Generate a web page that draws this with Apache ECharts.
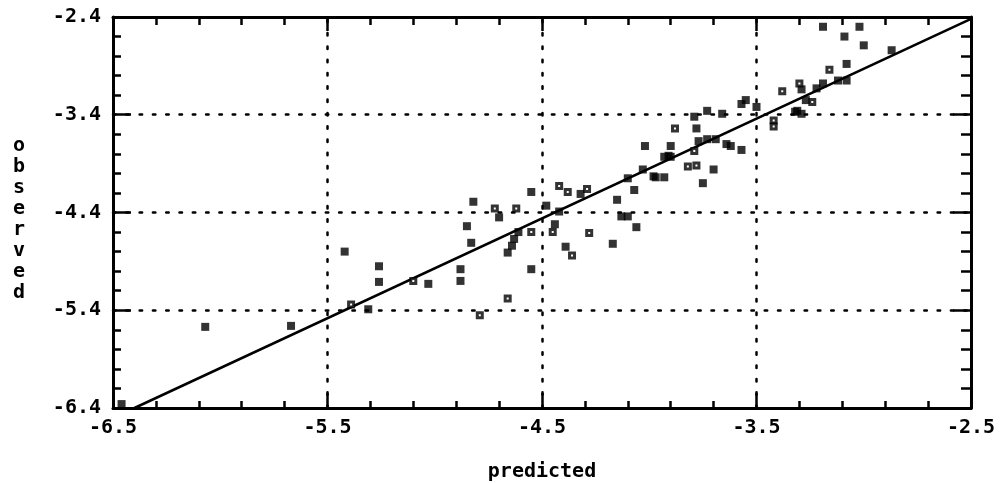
<!DOCTYPE html>
<html>
<head>
<meta charset="utf-8">
<script src="https://cdn.jsdelivr.net/npm/echarts@6/dist/echarts.min.js"></script>
<style>
html,body{margin:0;padding:0;background:#fff;}
#chart{width:1002px;height:483px;}
</style>
</head>
<body>
<div id="chart"></div>
<script>
// ---- data ----
const filledPredicted = [-6.46,-6.07,-5.67,-5.42,-5.31,-5.26,-5.26,-5.03,-4.88,-4.88,-4.85,-4.83,-4.82,-4.70,-4.66,-4.64,-4.63,-4.61,-4.55,-4.55,-4.48,-4.44,-4.42,-4.39,-4.32,-4.17,-4.15,-4.13,-4.10,-4.07,-4.10,-4.06,-4.03,-3.98,-3.97,-3.93,-4.02,-3.91,-3.93,-3.90,-3.90,-3.78,-3.79,-3.77,-3.75,-3.73,-3.73,-3.70,-3.69,-3.66,-3.64,-3.62,-3.57,-3.57,-3.55,-3.50,-3.32,-3.31,-3.29,-3.29,-3.27,-3.22,-3.19,-3.19,-3.12,-3.08,-3.08,-3.09,-3.02,-3.00,-2.87];
const filledObserved  = [-6.36,-5.57,-5.56,-4.80,-5.39,-4.95,-5.11,-5.13,-4.98,-5.10,-4.54,-4.71,-4.29,-4.45,-4.81,-4.74,-4.67,-4.60,-4.19,-4.98,-4.33,-4.52,-4.39,-4.75,-4.21,-4.72,-4.27,-4.44,-4.44,-4.17,-4.05,-4.55,-3.96,-4.03,-4.04,-4.04,-3.72,-3.82,-3.83,-3.72,-3.83,-3.54,-3.42,-3.67,-4.10,-3.65,-3.36,-3.96,-3.65,-3.39,-3.70,-3.72,-3.76,-3.29,-3.25,-3.32,-3.37,-3.36,-3.39,-3.14,-3.25,-3.13,-3.08,-2.50,-3.05,-3.05,-2.88,-2.60,-2.50,-2.69,-2.74];
const openPredicted = [-5.39,-5.10,-4.79,-4.72,-4.66,-4.62,-4.55,-4.45,-4.42,-4.38,-4.36,-4.29,-4.28,-3.88,-3.82,-3.78,-3.79,-3.42,-3.42,-3.38,-3.30,-3.24,-3.16];
const openObserved  = [-5.34,-5.10,-5.45,-4.36,-5.28,-4.36,-4.60,-4.60,-4.13,-4.19,-4.84,-4.16,-4.61,-3.54,-3.93,-3.92,-3.77,-3.46,-3.52,-3.16,-3.08,-3.27,-2.94];
const fitPredicted = [-6.40, -2.50];
const fitObserved  = [-6.40, -2.42];
const xMajorTicks = [-6.5, -5.5, -4.5, -3.5, -2.5];
const xMinorTicks = [-6.3,-6.1,-5.9,-5.7,-5.3,-5.1,-4.9,-4.7,-4.3,-4.1,-3.9,-3.7,-3.3,-3.1,-2.9,-2.7];
const yMajorTicks = [-6.4, -5.4, -4.4, -3.4, -2.4];
const yMinorTicks = [-6.2,-6.0,-5.8,-5.6,-5.2,-5.0,-4.8,-4.6,-4.2,-4.0,-3.8,-3.6,-3.2,-3.0,-2.8,-2.6];
const xGridValues = [-5.5, -4.5, -3.5];
const yGridValues = [-5.4, -4.4, -3.4];
const xTitle = 'predicted';
const yTitle = 'observed';

// ---- chart ----
const zip = (a, b) => a.map((v, i) => [v, b[i]]);
const FONT = 'DejaVu Sans Mono';
const labelStyle = {color:'#000', fontFamily:FONT, fontWeight:'bold', fontSize:20};
const X_MIN = -6.5, X_MAX = -2.5, Y_MIN = -6.4, Y_MAX = -2.4;

function xAxisDef(pos, ticks, len, showLine, showLabel) {
  return {
    type:'value', position:pos, min:X_MIN, max:X_MAX, interval:0.5,
    axisLine:{show:showLine, onZero:false, lineStyle:{color:'#000', width:3}},
    axisTick:{show:true, inside:true, length:len, customValues:ticks, lineStyle:{color:'#000', width:2.5}},
    axisLabel:{show:showLabel, customValues:xMajorTicks, margin:10, formatter:v=>v.toFixed(1), ...labelStyle},
    splitLine:{show:false}
  };
}
function yAxisDef(pos, ticks, len, showLine, showLabel) {
  return {
    type:'value', position:pos, min:Y_MIN, max:Y_MAX, interval:0.2,
    axisLine:{show:showLine, onZero:false, lineStyle:{color:'#000', width:3}},
    axisTick:{show:true, inside:true, length:len, customValues:ticks, lineStyle:{color:'#000', width:2.5}},
    axisLabel:{show:showLabel, customValues:yMajorTicks, margin:12, formatter:v=>v.toFixed(1), ...labelStyle},
    splitLine:{show:false}
  };
}

const xAxes = [
  Object.assign(xAxisDef('bottom', xMajorTicks, 15, true, true), {
    name:xTitle, nameLocation:'middle', nameGap:54,
    nameTextStyle:{...labelStyle}
  }),
  xAxisDef('bottom', xMinorTicks, 7, false, false),
  xAxisDef('top', xMajorTicks, 14, true, false),
  xAxisDef('top', xMinorTicks, 8, false, false)
];
const yAxes = [
  Object.assign(yAxisDef('left', yMajorTicks, 18, true, true), {
    name:'{p|}\n' + yTitle.split('').join('\n'), nameLocation:'middle', nameGap:88, nameRotate:0,
    nameTextStyle:{...labelStyle, fontSize:20, lineHeight:21, rich:{p:{height:14, lineHeight:14, fontSize:1}}}
  }),
  yAxisDef('left', yMinorTicks, 8, false, false),
  yAxisDef('right', yMajorTicks, 18, true, false),
  yAxisDef('right', yMinorTicks, 10, false, false)
];

const chart = echarts.init(document.getElementById('chart'), null, {renderer:'canvas'});
chart.setOption({
  animation:false,
  backgroundColor:'#fff',
  grid:{left:113, right:31, top:17, bottom:75, containLabel:false, outerBoundsMode:'none'},
  xAxis:xAxes,
  yAxis:yAxes,
  series:[
    {
      type:'line', data:zip(fitPredicted, fitObserved), showSymbol:false, symbol:'none',
      lineStyle:{color:'#000', width:2.5}, z:3,
      markLine:{
        silent:true, symbol:'none', label:{show:false},
        lineStyle:{color:'#000', width:2.5, type:[2.5, 10.8], cap:'round'},
        data:[...xGridValues.map(v=>({xAxis:v})), ...yGridValues.map(v=>({yAxis:v}))]
      }
    },
    {
      type:'scatter', data:zip(filledPredicted, filledObserved), symbol:'rect', symbolSize:8,
      itemStyle:{color:'#000'}, z:4
    },
    {
      type:'scatter', data:zip(openPredicted, openObserved), symbol:'rect', symbolSize:5,
      itemStyle:{color:'#fff', borderColor:'#000', borderWidth:3}, z:4
    }
  ]
});
</script>
</body>
</html>
